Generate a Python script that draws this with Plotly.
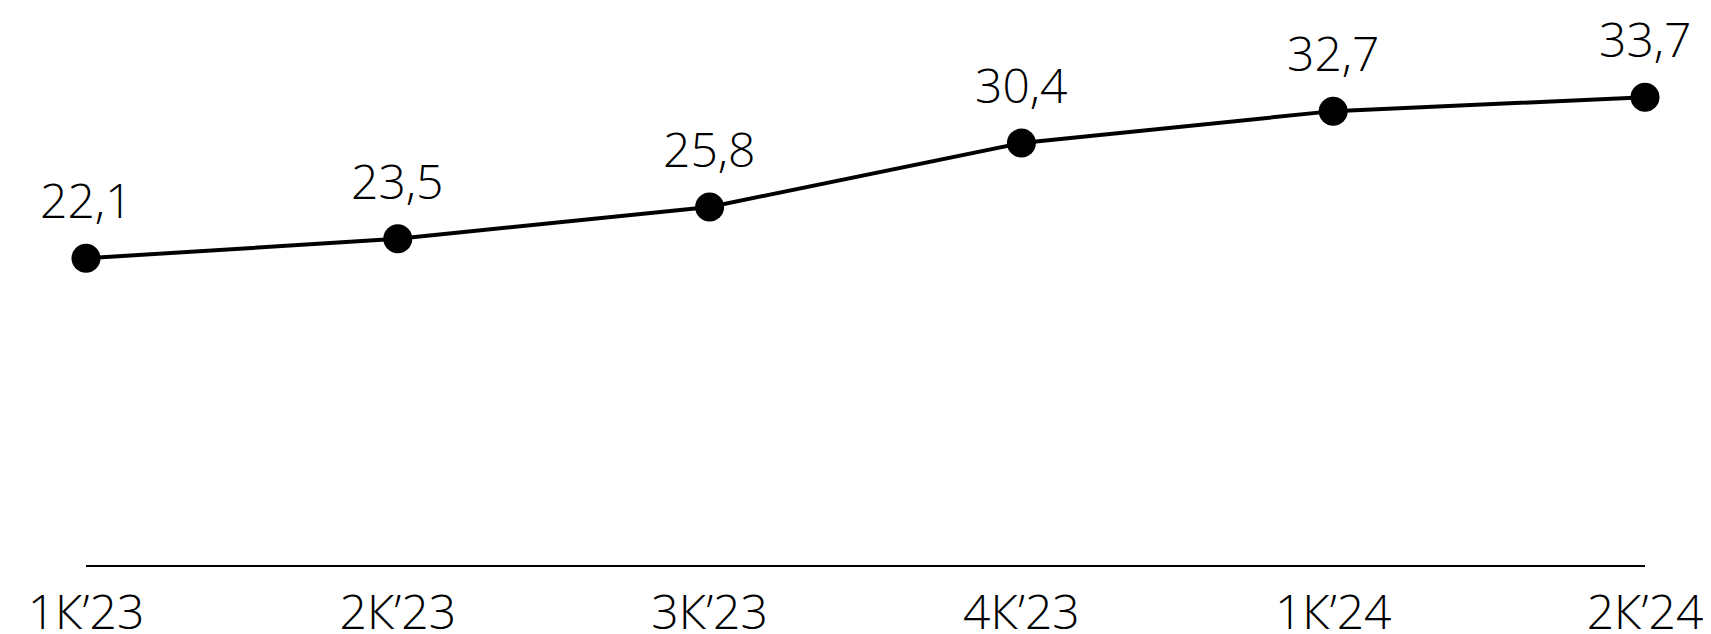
import plotly.graph_objects as go

categories = ["1К’23", "2К’23", "3К’23", "4К’23", "1К’24", "2К’24"]
values = [22.1, 23.5, 25.8, 30.4, 32.7, 33.7]

font_family = "Open Sans"
xs = list(range(len(categories)))
labels = [f"{v:.1f}".replace(".", ",") for v in values]

fig = go.Figure(
    go.Scatter(
        x=xs,
        y=values,
        mode="lines+markers",
        line=dict(color="#000000", width=4),
        marker=dict(color="#000000", size=29),
        cliponaxis=False,
        hoverinfo="skip",
    )
)

for x, y, t in zip(xs, values, labels):
    fig.add_annotation(
        x=x, y=y, text=t, showarrow=False,
        xanchor="center", yanchor="bottom", yshift=24,
        font=dict(family=font_family, size=48, color="#000000", weight=300),
    )

fig.update_layout(
    width=1703,
    height=626,
    margin=dict(l=78, r=66, t=0, b=69, autoexpand=False),
    paper_bgcolor="white",
    plot_bgcolor="white",
    showlegend=False,
    font=dict(family=font_family, color="#000000"),
    xaxis=dict(
        range=[0, len(categories) - 1],
        tickmode="array",
        tickvals=xs,
        ticktext=categories,
        showgrid=False,
        zeroline=False,
        showline=True,
        linecolor="#000000",
        linewidth=2,
        ticks="outside",
        ticklen=4,
        tickcolor="rgba(0,0,0,0)",
        automargin=False,
        tickfont=dict(family=font_family, size=48, color="#000000", weight=300),
    ),
    yaxis=dict(
        range=[0, 40.13],
        visible=False,
        showgrid=False,
        zeroline=False,
    ),
)

fig.write_html("out.html")
